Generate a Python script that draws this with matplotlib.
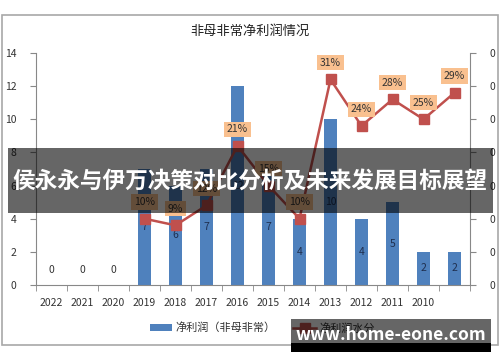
import numpy as np
import matplotlib
matplotlib.use('Agg')
import matplotlib.pyplot as plt
from matplotlib.patches import Rectangle

plt.rcParams['font.family'] = ['Noto Sans CJK SC', 'DejaVu Sans']

years = ['2022', '2021', '2020', '2019', '2018', '2017', '2016', '2015',
         '2014', '2013', '2012', '2011', '2010', '']
profit = [0, 0, 0, 7, 6, 7, 12, 7, 4, 10, 4, 5, 2, 2]
growth = [np.nan, np.nan, np.nan, 0.10, 0.09, 0.12, 0.21, 0.15, 0.10, 0.31,
          0.24, 0.28, 0.25, 0.29]
growth_labels = ['', '', '', '10%', '9%', '12%', '21%', '15%', '10%', '31%',
                 '24%', '28%', '25%', '29%']

title = '非母非常净利润情况'
bar_name = '净利润（非母非常）'
line_name = '净利润水分'
banner = '侯永永与伊万决策对比分析及未来发展目标展望'
site = 'www.home-eone.com'

fig = plt.figure(figsize=(5, 3.62), dpi=100)
ax = fig.add_axes([0.072, 0.2127, 0.868, 0.641])
x = np.arange(len(years))

bars = ax.bar(x, profit, width=0.42, color='#4F81BD', label=bar_name, zorder=2)
for xi, v in zip(x, profit):
    if v == 0:
        ax.annotate('0', (xi, 0), xytext=(0, 11), textcoords='offset points',
                    ha='center', va='center', fontsize=7.5, color='#333333')
    else:
        ax.text(xi, v / 2, str(v), ha='center', va='center', fontsize=7.5,
                color='#1F2F4F', zorder=3)

ax.set_xlim(-0.5, len(years) - 0.5)
ax.set_ylim(0, 14)
ax.set_yticks(range(0, 15, 2))
ax.set_xticks(x)
ax.set_xticklabels(years, fontsize=7.5, color='#333333')
ax.set_xticks(np.arange(-0.5, len(years), 1), minor=True)
ax.tick_params(axis='x', which='major', length=0, pad=9)
ax.tick_params(axis='x', which='minor', length=4, color='#888888', direction='out')
ax.tick_params(axis='y', labelsize=7.5, labelcolor='#333333', length=4,
               color='#888888', pad=10)
for s in ['top', 'right']:
    ax.spines[s].set_visible(False)
ax.spines['left'].set_color('#888888')
ax.spines['bottom'].set_color('#888888')

ax2 = ax.twinx()
ax2.set_ylim(0, 0.35)
ax2.set_yticks(np.arange(0, 0.36, 0.05))
ax2.set_yticklabels(['0'] * 8)
ax2.tick_params(axis='y', labelsize=7.5, labelcolor='#333333', length=4,
                color='#888888', pad=10)
for s in ['top', 'left', 'bottom']:
    ax2.spines[s].set_visible(False)
ax2.spines['right'].set_color('#888888')
ax2.plot(x, growth, color='#C0504D', lw=1.8, marker='s', markersize=6.5,
         label=line_name, zorder=3)
for xi, v, lab in zip(x, growth, growth_labels):
    if lab:
        ax2.annotate(lab, (xi, v), xytext=(0, 12), textcoords='offset points',
                     ha='center', va='center', fontsize=7.5, color='#333333',
                     bbox=dict(boxstyle='square,pad=0.25', fc='#F9C08F', ec='none'))

fig.text(0.5, 1 - 31 / 362, title, ha='center', va='center', fontsize=9.5,
         color='#222222')

h1, l1 = ax.get_legend_handles_labels()
h2, l2 = ax2.get_legend_handles_labels()
fig.legend(h1 + h2, l1 + l2, loc='center left',
           bbox_to_anchor=(140 / 500, 1 - 328 / 362),
           ncol=2, frameon=False, fontsize=8, handlelength=2.0,
           handletextpad=0.3, columnspacing=1.6, labelcolor='#333333')

# chart border
fig.add_artist(Rectangle((0.004, 0.047), 0.992, 0.912, transform=fig.transFigure,
                         fill=False, ec='#A8A8A8', lw=1.2, zorder=1))

# banner overlay
fig.add_artist(Rectangle((8 / 500, 1 - 213 / 362), 485 / 500, 65 / 362,
                         transform=fig.transFigure, fc='black', alpha=0.6,
                         ec='none', zorder=10))
fig.text(0.5, 1 - 181 / 362, banner, ha='center', va='center', fontsize=16.3,
         color='white', fontweight='bold', zorder=11)

# site watermark
fig.add_artist(Rectangle((291 / 500, 1 - 343 / 362), 200 / 500, 24 / 362,
                         transform=fig.transFigure, fc='black', alpha=0.6,
                         ec='none', zorder=10))
fig.add_artist(Rectangle((291 / 500, 1 - 352 / 362), 200 / 500, 9 / 362,
                         transform=fig.transFigure, fc='black', ec='none',
                         zorder=10))
fig.text(391 / 500, 1 - 335 / 362, site, ha='center', va='center', fontsize=12.5,
         color='white', fontweight='bold', zorder=11)

fig.savefig('out.png', dpi=100)
